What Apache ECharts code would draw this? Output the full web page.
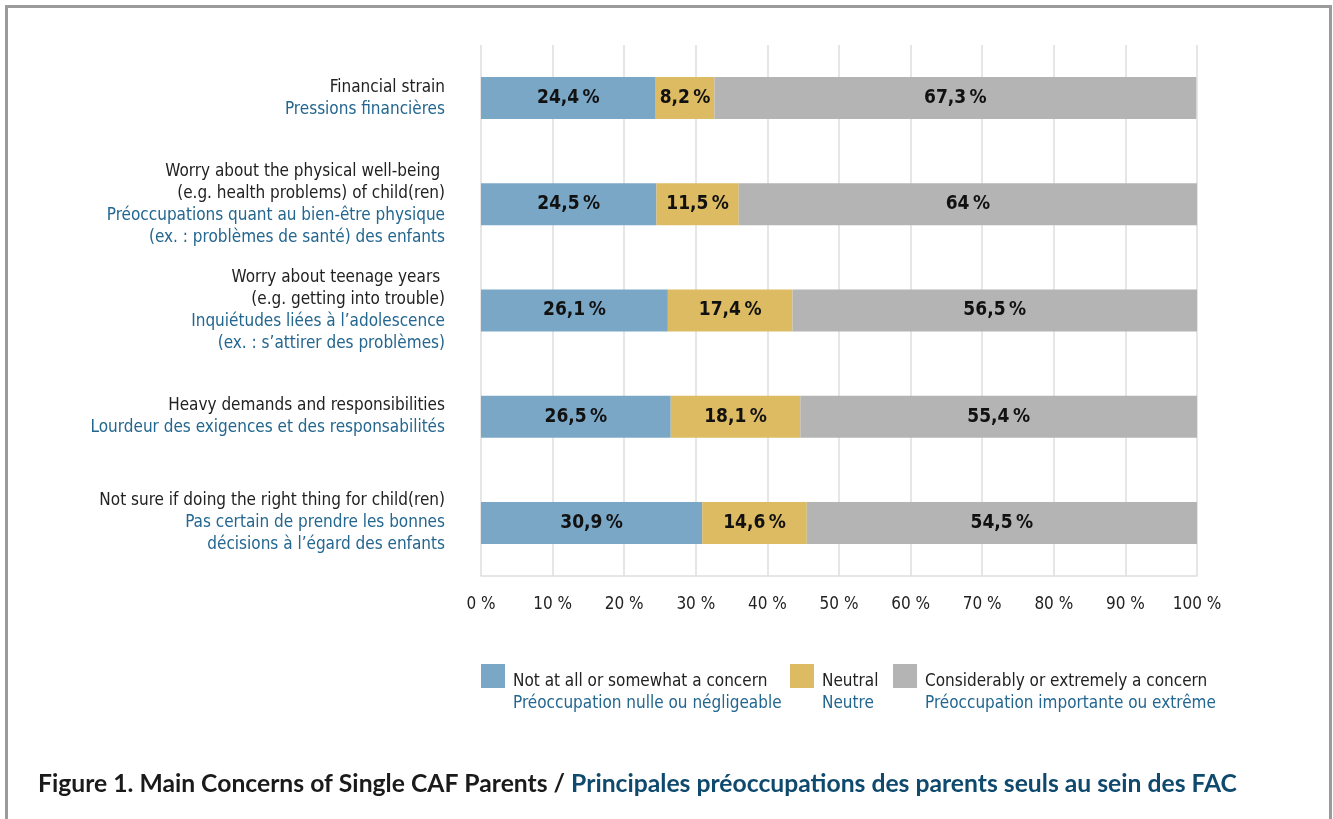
<!DOCTYPE html>
<html>
<head>
<meta charset="utf-8">
<script src="https://cdn.jsdelivr.net/npm/echarts@6/dist/echarts.min.js"></script>
<style>
  html, body { margin: 0; padding: 0; background: #fff; }
  #frame { position: absolute; left: 5px; top: 5px; width: 1327px; height: 1000px; box-sizing: border-box; border: 3px solid #9b9b9b; border-bottom: none; }
  #chart { position: absolute; left: 0; top: 0; width: 1333px; height: 819px; }
</style>
</head>
<body>
<div id="frame"></div>
<div id="chart"></div>
<script>
// ---- data ----
const categoriesEn = [
  'Financial strain',
  'Worry about the physical well-being \n(e.g. health problems) of child(ren)',
  'Worry about teenage years \n(e.g. getting into trouble)',
  'Heavy demands and responsibilities',
  'Not sure if doing the right thing for child(ren)'
];
const categoriesFr = [
  'Pressions financières',
  'Préoccupations quant au bien-être physique\n(ex. : problèmes de santé) des enfants',
  'Inquiétudes liées à l’adolescence\n(ex. : s’attirer des problèmes)',
  'Lourdeur des exigences et des responsabilités',
  'Pas certain de prendre les bonnes\ndécisions à l’égard des enfants'
];
const seriesNamesEn = ['Not at all or somewhat a concern', 'Neutral', 'Considerably or extremely a concern'];
const seriesNamesFr = ['Préoccupation nulle ou négligeable', 'Neutre', 'Préoccupation importante ou extrême'];
const notConcern = [24.4, 24.5, 26.1, 26.5, 30.9];
const neutral = [8.2, 11.5, 17.4, 18.1, 14.6];
const concern = [67.3, 64, 56.5, 55.4, 54.5];
const xTicks = [0, 10, 20, 30, 40, 50, 60, 70, 80, 90, 100];
const titleEn = 'Figure 1. Main Concerns of Single CAF Parents / ';
const titleFr = 'Principales préoccupations des parents seuls au sein des FAC';

// ---- style ----
const FONT = '"Liberation Sans Narrow", "DejaVu Sans Condensed", sans-serif';
const colors = ['#7ba7c7', '#ddbb63', '#b4b4b4'];
const frColor = '#23668f';

function richLines(en, fr) {
  const a = en.split('\n').map(s => '{en|' + s + '}');
  const b = fr.split('\n').map(s => '{fr|' + s + '}');
  return a.concat(b).join('\n');
}
const catKeys = categoriesEn.map((_, i) => 'c' + i);
const catLabel = {};
catKeys.forEach((k, i) => { catLabel[k] = richLines(categoriesEn[i], categoriesFr[i]); });

function fmtPct(v) { return String(v).replace('.', ',') + '\u2009%'; }

const chart = echarts.init(document.getElementById('chart'), null, { renderer: 'canvas' });

const seriesData = [notConcern, neutral, concern];
const series = seriesData.map((d, i) => ({
  name: seriesNamesEn[i],
  type: 'bar',
  stack: 'total',
  barWidth: 42,
  itemStyle: { color: colors[i] },
  label: {
    show: true,
    position: 'inside',
    formatter: p => fmtPct(p.value),
    fontFamily: FONT,
    fontWeight: 'bold',
    fontSize: 19,
    color: '#111'
  },
  emphasis: { disabled: true },
  data: d
}));

const legendLefts = [481, 790, 893];
const legends = seriesNamesEn.map((n, i) => ({
  data: [{ name: n, icon: 'rect' }],
  left: legendLefts[i],
  top: 664,
  padding: 0,
  itemWidth: 24,
  itemHeight: 24,
  selectedMode: false,
  formatter: name => '{en|' + name + '}\n{fr|' + seriesNamesFr[i] + '}',
  textStyle: {
    padding: [34, 0, 0, 3],
    rich: {
      en: { fontFamily: FONT, fontSize: 17, lineHeight: 22, color: '#222' },
      fr: { fontFamily: FONT, fontSize: 17, lineHeight: 22, color: frColor }
    }
  }
}));

chart.setOption({
  animation: false,
  backgroundColor: 'transparent',
  title: {
    text: '{a|' + titleEn + '}{b|' + titleFr + '}',
    left: 38,
    top: 772,
    padding: 0,
    textStyle: {
      rich: {
        a: { fontFamily: 'Lato, sans-serif', fontWeight: 'bold', fontSize: 24.7, color: '#1a1a1a' },
        b: { fontFamily: 'Lato, sans-serif', fontWeight: 'bold', fontSize: 24.7, color: '#0f4a6e' }
      }
    }
  },
  legend: legends,
  grid: { left: 481, right: 136, top: 45, bottom: 243, containLabel: false },
  xAxis: {
    type: 'value',
    min: 0,
    max: 100,
    interval: 10,
    axisLine: { show: true, lineStyle: { color: '#dedede', width: 1.5 } },
    axisTick: { show: false },
    splitLine: { show: true, lineStyle: { color: '#dedede', width: 1.5 } },
    axisLabel: {
      margin: 20,
      fontFamily: FONT,
      fontSize: 17,
      color: '#222',
      formatter: v => (xTicks.indexOf(v) >= 0 ? v + ' %' : '')
    }
  },
  yAxis: {
    type: 'category',
    inverse: true,
    data: catKeys,
    axisLine: { show: false },
    axisTick: { show: false },
    splitLine: { show: false },
    axisLabel: {
      margin: 36,
      align: 'right',
      formatter: v => catLabel[v],
      rich: {
        en: { fontFamily: FONT, fontSize: 17, lineHeight: 22, color: '#222', align: 'right' },
        fr: { fontFamily: FONT, fontSize: 17, lineHeight: 22, color: frColor, align: 'right' }
      }
    }
  },
  series: series
});
</script>
</body>
</html>
